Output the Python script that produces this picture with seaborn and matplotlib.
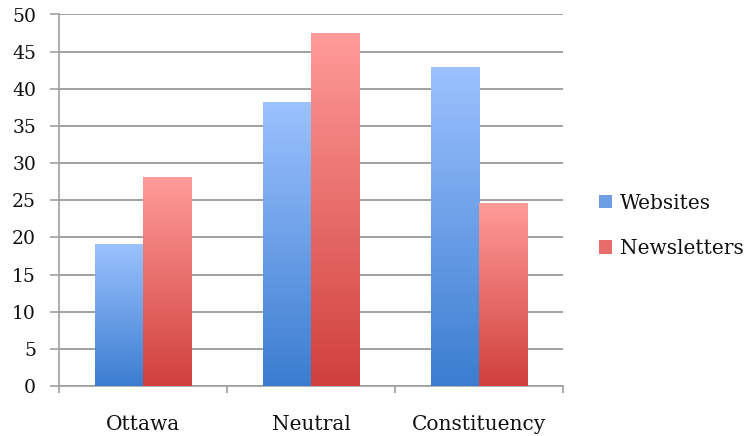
import numpy as np
import pandas as pd
import matplotlib
matplotlib.use("Agg")
import matplotlib.pyplot as plt
import seaborn as sns
from matplotlib.colors import LinearSegmentedColormap
from matplotlib.patches import Patch

# data
categories = ["Ottawa", "Neutral", "Constituency"]
series = ["Websites", "Newsletters"]
websites = [19.1, 38.2, 42.8]
newsletters = [28.0, 47.4, 24.5]
yticks = [0, 5, 10, 15, 20, 25, 30, 35, 40, 45, 50]

# gradient colours (bottom, top)
grad = {
    "Websites": ("#3b7dd0", "#9cc2ff"),
    "Newsletters": ("#d0403c", "#ff9b99"),
}
mid = {"Websites": "#6e9fe6", "Newsletters": "#e86d6a"}

df = pd.DataFrame({
    "category": categories * 2,
    "series": ["Websites"] * 3 + ["Newsletters"] * 3,
    "value": websites + newsletters,
})

sns.set_theme(style="white")
plt.rcParams["font.family"] = ["DejaVu Serif"]
plt.rcParams["text.color"] = "#111111"

fig = plt.figure(figsize=(7.44, 4.36), dpi=100)
ax = fig.add_axes([59 / 744, 50 / 436, 504 / 744, 371.5 / 436])

sns.barplot(data=df, x="category", y="value", hue="series", order=categories,
            hue_order=series, palette=mid, width=0.572, gap=0, ax=ax,
            legend=False, saturation=1)

# gradient fill on each bar
for patch, name in zip(ax.patches, [s for s in series for _ in categories]):
    x, w, h = patch.get_x(), patch.get_width(), patch.get_height()
    if h <= 0:
        continue
    cmap = LinearSegmentedColormap.from_list(name, grad[name])
    g = np.linspace(0, 1, 256).reshape(-1, 1)
    ax.imshow(g, cmap=cmap, origin="lower", aspect="auto",
              extent=[x, x + w, 0, h], zorder=3)
    patch.set_visible(False)

ax.set_xlim(-0.5, 2.5)
ax.set_ylim(0, 50)
ax.set_yticks(yticks)
ax.yaxis.grid(True, color="#a0a0a0", linewidth=1.4)
ax.set_axisbelow(True)
for s in ["top", "right"]:
    ax.spines[s].set_visible(False)
for s in ["left", "bottom"]:
    ax.spines[s].set_color("#a0a0a0")
    ax.spines[s].set_linewidth(1.2)

ax.set_xlabel("")
ax.set_ylabel("")
ax.tick_params(axis="y", length=6.5, width=1.2, color="#a0a0a0", pad=10,
               labelsize=13.5, labelcolor="#111111", left=True)
ax.tick_params(axis="x", which="major", length=0, pad=21, labelsize=14.5,
               labelcolor="#111111")
ax.set_xticks([-0.5, 0.5, 1.5, 2.5], minor=True)
ax.tick_params(axis="x", which="minor", length=5, width=1.2, color="#a0a0a0",
               bottom=True)

handles = [Patch(facecolor=mid[s], edgecolor="none", label=s) for s in series]
fig.legend(handles=handles, loc="center left", bbox_to_anchor=(0.805, 0.482),
           frameon=False, fontsize=14.5, handlelength=0.65, handleheight=0.65,
           handletextpad=0.4, labelspacing=1.3, borderpad=0, borderaxespad=0)

fig.savefig("out.png", dpi=100)
